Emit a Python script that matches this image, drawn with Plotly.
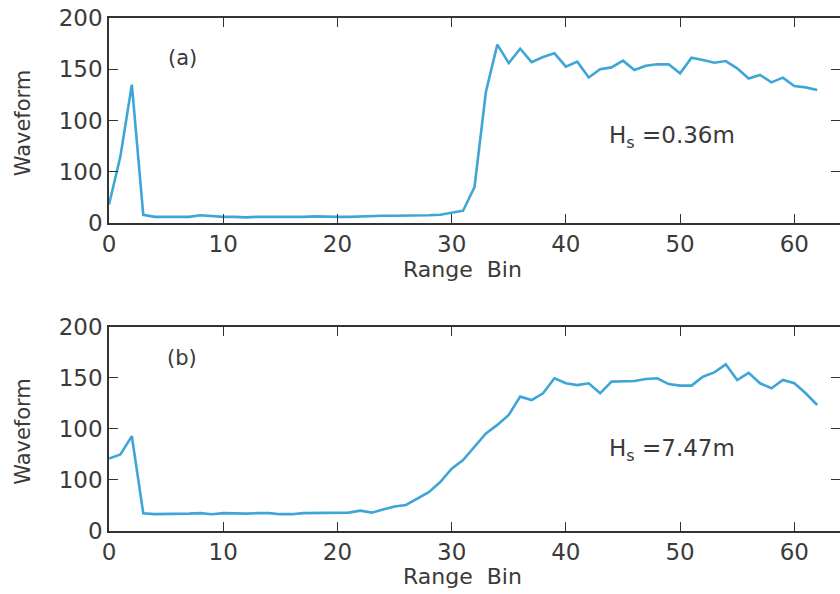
import plotly.graph_objects as go
from plotly.subplots import make_subplots

range_bins = list(range(63))

waveform_a = [18, 65, 135, 8, 6, 6, 6, 6, 7.5, 6.5, 6, 6, 5.5, 6, 6, 6, 5.5, 6, 6.5, 6,
              6, 6, 6.5, 6.5, 7, 7, 7, 7, 7.5, 8, 10, 12, 35, 128, 174, 156,
              170, 157, 162, 165.5, 152.5, 157.4, 142, 150, 151.8, 158.4, 149.3, 153.5,
              154.8, 154.8, 146, 161.3, 159, 156.4, 158, 150.9, 141, 144.4, 137.2,
              141.8, 133.6, 132.3, 129.7]

waveform_b = [71, 75, 93, 17.3, 16.5, 16.5, 16.5, 17, 17.5, 16.5, 17.5, 17, 17, 17.5, 17.5,
              16.5, 16.5, 17.5, 17.5, 17.5, 17.5, 18, 20, 18, 21, 24, 25.5, 32, 38,
              48, 61, 69.6, 82.7, 95.7, 104, 113.7, 131.7, 128.4, 135, 149.7, 144.8,
              143, 144.8, 135, 146.4, 147, 147, 149, 149.7, 144, 142.5, 142.5, 151.3,
              155.5, 163.4, 148, 155, 144.8, 139.9, 148, 144.8, 135, 123.5]

x_ticks = [0, 10, 20, 30, 40, 50, 60]
y_ticks = [0, 50, 100, 150, 200]
y_ticktext = ["0", "100", "100", "150", "200"]

panel_labels = ["(a)", "(b)"]
hs_labels = ["H<sub>s</sub> =0.36m", "H<sub>s</sub> =7.47m"]

LINE = "#3ea6d6"
AX = "#333333"
TXT = "#3a3a3a"
FONT = "DejaVu Sans"

fig = make_subplots(rows=2, cols=1, vertical_spacing=0.2027)
fig.add_trace(go.Scatter(x=range_bins, y=waveform_a, mode="lines",
                         line=dict(color=LINE, width=2.6), showlegend=False), row=1, col=1)
fig.add_trace(go.Scatter(x=range_bins, y=waveform_b, mode="lines",
                         line=dict(color=LINE, width=2.6), showlegend=False), row=2, col=1)

axis_common = dict(showline=True, linecolor=AX, linewidth=1.6, mirror="ticks",
                   ticks="inside", ticklen=9, tickwidth=1.4, tickcolor=AX,
                   showgrid=False, zeroline=False, automargin=False,
                   tickfont=dict(family=FONT, size=23, color=TXT))

for r in (1, 2):
    fig.update_xaxes(range=[0, 64], tickvals=x_ticks, row=r, col=1, **axis_common)
    fig.update_yaxes(range=[0, 200], tickvals=y_ticks, ticktext=y_ticktext,
                     row=r, col=1, **axis_common)

fig.update_layout(
    width=840, height=594,
    margin=dict(l=109, r=0, t=18, b=63),
    paper_bgcolor="white", plot_bgcolor="white",
)
fig.update_yaxes(domain=[0.6004, 1.0], row=1, col=1)
fig.update_yaxes(domain=[0.0, 0.3977], row=2, col=1)

xrefs = ["x", "x2"]
yrefs = ["y", "y2"]
for i in range(2):
    fig.add_annotation(x=6.4, y=[161, 170][i], xref=xrefs[i], yref=yrefs[i],
                       text=panel_labels[i], showarrow=False,
                       font=dict(family=FONT, size=21, color=TXT))
    fig.add_annotation(x=49.3, y=[84, 79][i], xref=xrefs[i], yref=yrefs[i],
                       text=hs_labels[i], showarrow=False,
                       font=dict(family=FONT, size=23, color=TXT))
    fig.add_annotation(x=0.484, y=-0.225, xref=xrefs[i] + " domain", yref=yrefs[i] + " domain",
                       text="Range  Bin", showarrow=False, yanchor="middle",
                       font=dict(family=FONT, size=22, color=TXT))
    fig.add_annotation(x=-0.118, y=0.49, xref=xrefs[i] + " domain", yref=yrefs[i] + " domain",
                       text="Waveform", showarrow=False, textangle=-90,
                       xanchor="center", yanchor="middle",
                       font=dict(family=FONT, size=21, color=TXT))

fig.write_html("out.html",
               config={"displayModeBar": False},
               post_script="document.body.style.margin='0px';"
                           "document.body.style.overflow='hidden';")
